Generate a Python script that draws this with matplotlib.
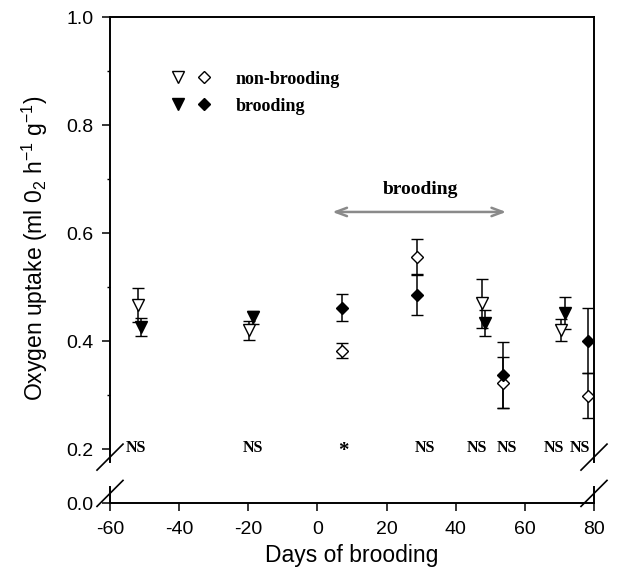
import matplotlib
matplotlib.use('Agg')
import matplotlib.pyplot as plt
from matplotlib.lines import Line2D
from matplotlib.legend_handler import HandlerTuple
from matplotlib.font_manager import FontProperties

plt.rcParams['axes.unicode_minus'] = False
plt.rcParams['mathtext.fontset'] = 'custom'
plt.rcParams['mathtext.rm'] = 'Liberation Sans'
plt.rcParams['mathtext.it'] = 'Liberation Sans:italic'
plt.rcParams['mathtext.default'] = 'rm'

# --- data ---
# non-brooding, triangles
tri_open_days = [-52, -19.7, 47.5, 70.4]
tri_open_mean = [0.467, 0.420, 0.470, 0.420]
tri_open_err = [0.031, 0.018, 0.045, 0.020]
# brooding, triangles
tri_fill_days = [-51, -18.6, 48.4, 71.6]
tri_fill_mean = [0.426, 0.444, 0.433, 0.452]
tri_fill_err = [0.016, 0.012, 0.024, 0.029]
# non-brooding, diamonds
dia_open_days = [7, 28.7, 53.6, 78.3]
dia_open_mean = [0.381, 0.556, 0.322, 0.298]
dia_open_lo = [0.013, 0.033, 0.046, 0.041]
dia_open_hi = [0.015, 0.033, 0.076, 0.043]
# brooding, diamonds
dia_fill_days = [7, 28.7, 53.6, 78.3]
dia_fill_mean = [0.461, 0.485, 0.337, 0.400]
dia_fill_lo = [0.024, 0.037, 0.061, 0.059]
dia_fill_hi = [0.026, 0.039, 0.033, 0.061]

# significance labels
sig_days = [-52.6, -18.8, 7.5, 31.0, 46.1, 54.8, 68.4, 75.9]
sig_text = ['NS', 'NS', '*', 'NS', 'NS', 'NS', 'NS', 'NS']

brood_start, brood_end = 3.5, 55.4

W, H = 618, 584
fig = plt.figure(figsize=(W / 100, H / 100), dpi=100)
ax = fig.add_axes([110 / W, 1 - 462 / H, 484 / W, 445 / H])
ax2 = fig.add_axes([110 / W, 1 - 503 / H, 484 / W, 16 / H], sharex=ax)

sans = 'Liberation Sans'
serif_b = FontProperties(family='Liberation Serif', weight='bold', size=11.5)

ms_t, ms_d = 8.5, 6.6
eb = dict(ecolor='k', elinewidth=1.1, capsize=4, capthick=1.1, mec='k', mew=1.0, ls='none')
ax.errorbar(tri_open_days, tri_open_mean, yerr=tri_open_err, fmt='v', ms=ms_t, mfc='white', **eb)
ax.errorbar(tri_fill_days, tri_fill_mean, yerr=tri_fill_err, fmt='v', ms=ms_t, mfc='k', **eb)
ax.errorbar(dia_open_days, dia_open_mean, yerr=[dia_open_lo, dia_open_hi], fmt='D', ms=ms_d, mfc='white', **eb)
ax.errorbar(dia_fill_days, dia_fill_mean, yerr=[dia_fill_lo, dia_fill_hi], fmt='D', ms=ms_d, mfc='k', **eb)

for d, t in zip(sig_days, sig_text):
    if t == '*':
        ax.text(d, 0.196, t, ha='center', va='center', family='Liberation Serif',
                weight='bold', fontsize=15)
    else:
        ax.text(d, 0.202, t, ha='center', va='center', fontproperties=serif_b)

# brooding period arrow
ax.annotate('', xy=(brood_start, 0.639), xytext=(brood_end, 0.639),
            arrowprops=dict(arrowstyle='<->,head_length=0.8,head_width=0.3', color='#8a8a8a', lw=1.8))
ax.text((brood_start + brood_end) / 2 + 0.5, 0.681, 'brooding', ha='center', va='center',
        family='Liberation Serif', weight='bold', fontsize=14)

# legend
h_to = Line2D([], [], marker='v', ls='none', ms=ms_t, mfc='white', mec='k')
h_do = Line2D([], [], marker='D', ls='none', ms=ms_d, mfc='white', mec='k')
h_tf = Line2D([], [], marker='v', ls='none', ms=ms_t, mfc='k', mec='k')
h_df = Line2D([], [], marker='D', ls='none', ms=ms_d, mfc='k', mec='k')
ax.legend([(h_to, h_do), (h_tf, h_df)], ['non-brooding', 'brooding'],
          handler_map={tuple: HandlerTuple(ndivide=None, pad=0)},
          prop=FontProperties(family='Liberation Serif', weight='bold', size=13),
          frameon=False, loc='center left', bbox_to_anchor=(0.1136, 0.830),
          borderpad=0, borderaxespad=0, handlelength=2.9, handletextpad=1.0, labelspacing=0.55)

# axes / broken y axis
ax.set_xlim(-60, 80)
ax.set_ylim(0.176, 1.0)
ax2.set_ylim(0, 0.0296)
ax.spines['bottom'].set_visible(False)
ax2.spines['top'].set_visible(False)
for a in (ax, ax2):
    for s in a.spines.values():
        s.set_linewidth(1.4)

ax.set_yticks([0.2, 0.4, 0.6, 0.8, 1.0])
ax.set_yticklabels(['0.2', '0.4', '0.6', '0.8', '1.0'])
ax.set_yticks([0.3, 0.5, 0.7, 0.9], minor=True)
ax.tick_params(axis='x', which='both', bottom=False, top=False, labelbottom=False)
ax.tick_params(axis='y', which='major', direction='out', length=6, width=1.1, pad=6, labelsize=14)
ax.tick_params(axis='y', which='minor', direction='out', length=2.5, width=1.0)
ax2.set_yticks([0.0])
ax2.set_yticklabels(['0.0'])
ax2.tick_params(axis='y', direction='out', length=6, width=1.1, pad=6, labelsize=14)
ax2.set_xticks([-60, -40, -20, 0, 20, 40, 60, 80])
ax2.tick_params(axis='x', direction='out', length=6, width=1.1, pad=7, labelsize=14)
for lab in ax.get_yticklabels() + ax2.get_yticklabels() + ax2.get_xticklabels():
    lab.set_family(sans)

ax2.set_xlabel('Days of brooding', family=sans, fontsize=16.5, labelpad=4)
ax.set_ylabel('Oxygen uptake (ml 0$_2$ h$^{-1}$ g$^{-1}$)', family=sans, fontsize=16.5)
ax.yaxis.set_label_coords(-0.124, 0.481)

# break marks
dx = 13 / 484
kw = dict(color='k', clip_on=False, lw=1.2)
dy = 13 / 445
ax.plot((-dx, dx), (0.011 - dy, 0.011 + dy), transform=ax.transAxes, **kw)
ax.plot((1 - dx, 1 + dx), (0.011 - dy, 0.011 + dy), transform=ax.transAxes, **kw)
dy2 = 13 / 16
ax2.plot((-dx, dx), (0.6 - dy2, 0.6 + dy2), transform=ax2.transAxes, **kw)
ax2.plot((1 - dx, 1 + dx), (0.6 - dy2, 0.6 + dy2), transform=ax2.transAxes, **kw)

fig.savefig('out.png', dpi=100)
